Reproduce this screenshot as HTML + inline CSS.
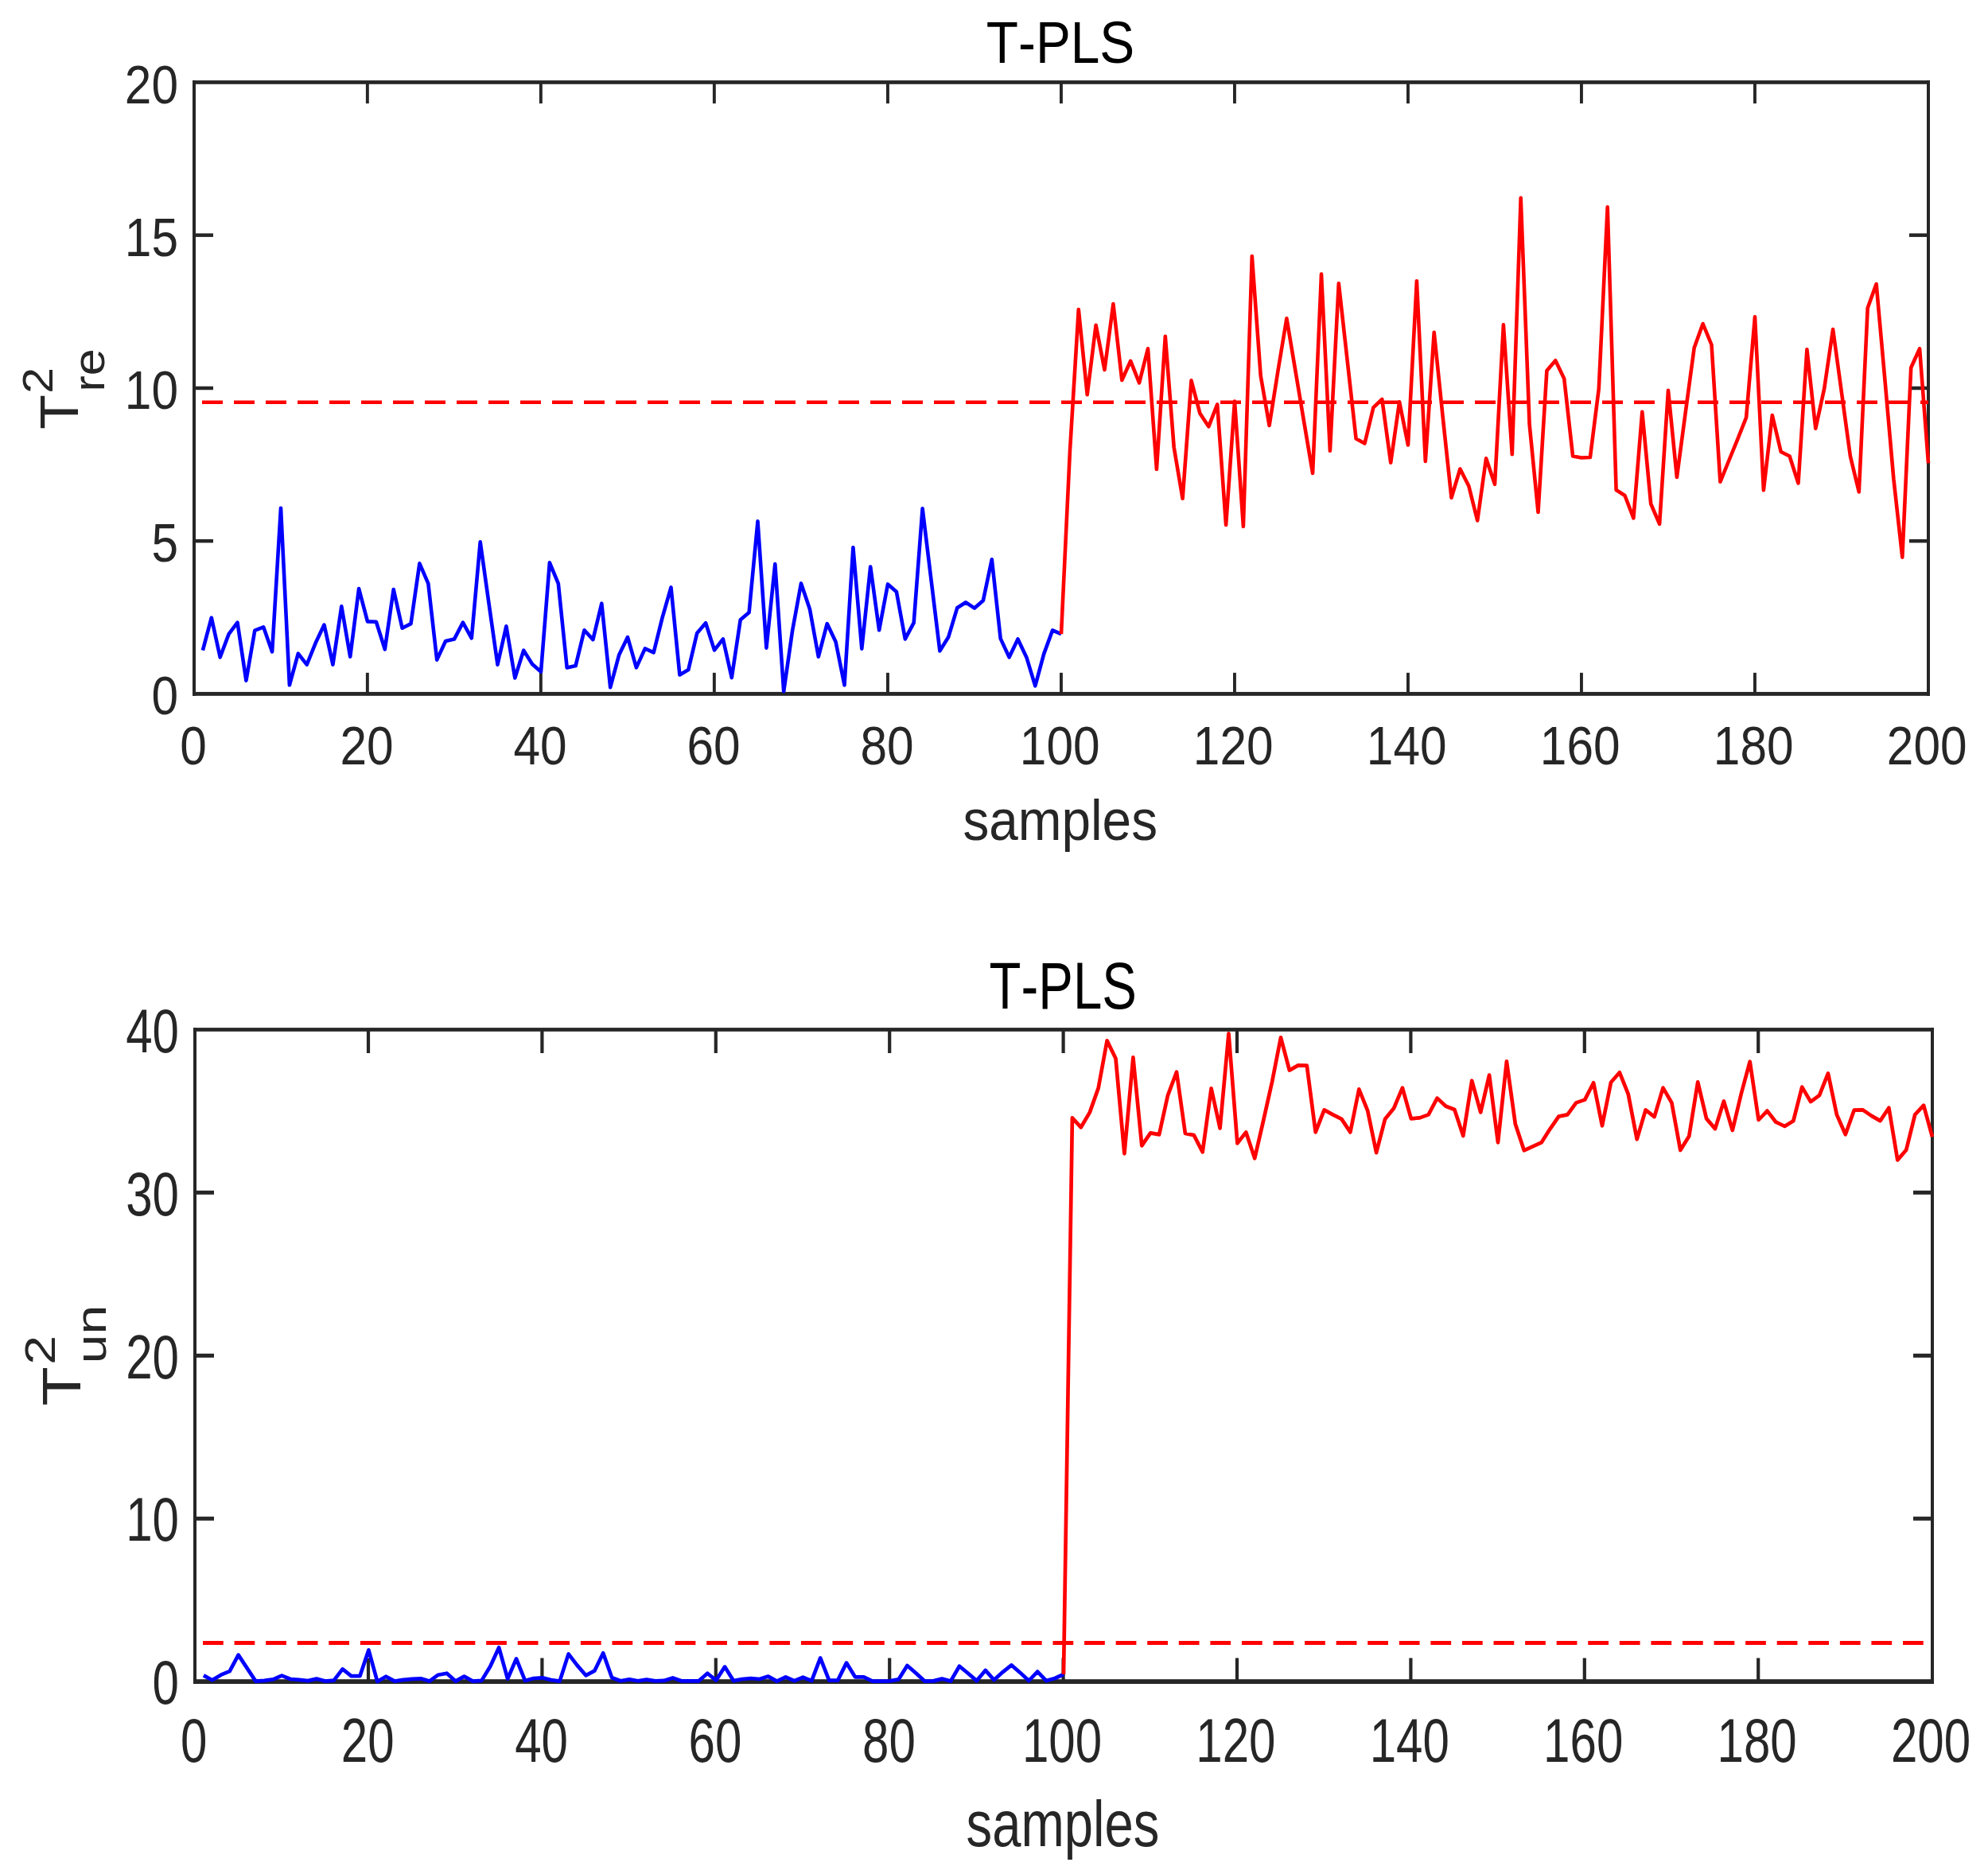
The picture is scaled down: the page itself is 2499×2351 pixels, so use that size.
<!DOCTYPE html>
<html lang="en"><head><meta charset="utf-8"><title>T-PLS</title>
<style>html,body{margin:0;padding:0;background:#fff;overflow:hidden}svg{display:block}text{font-family:"Liberation Sans",sans-serif;font-kerning:none;font-variant-ligatures:none}</style>
</head><body>
<svg width="2499" height="2351" viewBox="0 0 2499 2351">
<rect width="2499" height="2351" fill="#ffffff"/>
<g fill="#262626">
<rect x="242" y="101.1" width="4" height="773.7"/>
<rect x="2422" y="101.1" width="4" height="773.7"/>
<rect x="242" y="101.1" width="2184" height="4.7"/>
<rect x="242" y="869.9" width="2184" height="4.9"/>
<rect x="459.9" y="845.8" width="3.9" height="26.6"/>
<rect x="459.9" y="103.5" width="3.9" height="26.6"/>
<rect x="677.9" y="845.8" width="3.9" height="26.6"/>
<rect x="677.9" y="103.5" width="3.9" height="26.6"/>
<rect x="895.9" y="845.8" width="3.9" height="26.6"/>
<rect x="895.9" y="103.5" width="3.9" height="26.6"/>
<rect x="1114" y="845.8" width="3.9" height="26.6"/>
<rect x="1114" y="103.5" width="3.9" height="26.6"/>
<rect x="1332" y="845.8" width="3.9" height="26.6"/>
<rect x="1332" y="103.5" width="3.9" height="26.6"/>
<rect x="1550" y="845.8" width="3.9" height="26.6"/>
<rect x="1550" y="103.5" width="3.9" height="26.6"/>
<rect x="1768" y="845.8" width="3.9" height="26.6"/>
<rect x="1768" y="103.5" width="3.9" height="26.6"/>
<rect x="1986" y="845.8" width="3.9" height="26.6"/>
<rect x="1986" y="103.5" width="3.9" height="26.6"/>
<rect x="2204" y="845.8" width="3.9" height="26.6"/>
<rect x="2204" y="103.5" width="3.9" height="26.6"/>
<rect x="244" y="677.9" width="24" height="4.5"/>
<rect x="2400" y="677.9" width="24" height="4.5"/>
<rect x="244" y="485.7" width="24" height="4.5"/>
<rect x="2400" y="485.7" width="24" height="4.5"/>
<rect x="244" y="293.4" width="24" height="4.5"/>
<rect x="2400" y="293.4" width="24" height="4.5"/>
</g>
<line x1="254" y1="505.8" x2="2424" y2="505.8" stroke="#ff0000" stroke-width="4.6" stroke-dasharray="26 14"/>
<polyline points="254.9,817.6 265.8,776.6 276.7,826.3 287.6,797.1 298.5,782.6 309.4,855.6 320.3,792.6 331.2,788.3 342.1,819.4 353,638.7 363.9,861.3 374.8,821.6 385.7,835.6 396.6,808.6 407.5,785.6 418.4,835.6 429.3,762.3 440.2,825.6 451.1,740.1 462,781.4 472.9,781.7 483.8,816.3 494.7,741.1 505.6,789.7 516.5,784.1 527.4,708.4 538.3,733.6 549.2,829.6 560.1,806 571,803.6 581.9,782.6 592.8,802.3 603.7,681.3 614.6,759.1 625.5,835.6 636.4,787.3 647.3,852.4 658.2,817.6 669.1,835 680,844.6 690.9,707.3 701.8,733.6 712.7,839.4 723.6,837.1 734.5,792.3 745.4,804.1 756.3,758.7 767.2,864.2 778.1,823.6 789,801.1 799.9,839.4 810.8,815.4 821.7,820.3 832.6,776.4 843.5,738.4 854.4,848.4 865.3,842.1 876.2,796 887.1,783.3 898,817.4 908.9,803.4 919.8,852 930.7,779.3 941.6,770 952.5,655.4 963.4,814.6 974.3,709.1 985.2,869.3 996.1,792.9 1007,733.4 1017.9,765.7 1028.8,825.6 1039.7,784.1 1050.6,807.1 1061.5,861.3 1072.4,688.3 1083.3,815.6 1094.2,712.6 1105.1,792.3 1116,734.4 1126.9,744 1137.8,803.4 1148.7,782.9 1159.6,639.4 1170.5,729 1181.4,818.4 1192.3,800.7 1203.2,764.3 1214.1,757.3 1225,764.6 1235.9,755 1246.8,703.3 1257.7,802.9 1268.6,826.3 1279.5,803.4 1290.4,826.4 1301.3,862.4 1312.2,822.1 1323.1,792.3 1334,797.1" fill="none" stroke="#0000ff" stroke-width="4.6" stroke-linejoin="round" stroke-linecap="butt"/>
<polyline points="1334,797.1 1344.9,568 1355.8,389 1366.7,496.3 1377.6,408.8 1388.5,465 1399.4,382 1410.3,478 1421.2,453.8 1432.1,481.3 1443,438.3 1453.9,590 1464.8,422.8 1475.7,562.3 1486.6,626.8 1497.5,478.3 1508.4,519.8 1519.3,536.3 1530.2,508.3 1541.1,660 1552,504.5 1562.9,662 1573.8,322 1584.7,472.3 1595.6,535 1606.5,466 1617.4,400.3 1628.3,465.5 1639.2,530.5 1650.1,595 1661,344.5 1671.9,566.8 1682.8,356.3 1693.7,453.8 1704.6,551.5 1715.5,557.5 1726.4,512.3 1737.3,502 1748.2,581.8 1759.1,505.3 1770,559.5 1780.9,353.3 1791.8,580 1802.7,417.8 1813.6,523.5 1824.5,625.8 1835.4,589.5 1846.3,611 1857.2,654.5 1868.1,576.3 1879,608.8 1889.9,408.3 1900.8,571.3 1911.7,248.8 1922.6,533.5 1933.5,644 1944.4,466 1955.3,453.3 1966.2,476 1977.1,573.5 1988,575.5 1998.9,575 2009.8,488.5 2020.7,260.3 2031.6,616 2042.5,623 2053.4,651.3 2064.3,517.8 2075.2,633.5 2086.1,658.8 2097,490.8 2107.9,600 2118.8,518 2129.7,437.3 2140.6,407 2151.5,433.5 2162.4,605.8 2173.3,579 2184.2,552.3 2195.1,524.8 2206,398.3 2216.9,616.3 2227.8,522 2238.7,568 2249.6,573.5 2260.5,607.5 2271.4,439.3 2282.3,538.8 2293.2,488.5 2304.1,414 2315,493.8 2325.9,573.5 2336.8,618.5 2347.7,387.3 2358.6,357 2369.5,478.5 2380.4,602.3 2391.3,700.6 2402.2,462.3 2413.1,438.3 2424,582.3" fill="none" stroke="#ff0000" stroke-width="4.6" stroke-linejoin="round" stroke-linecap="butt"/>
<text transform="translate(1333 78.9) scale(0.883 1)" font-size="74.5" text-anchor="middle" fill="#000000">T-PLS</text>
<text transform="translate(243 961.3) scale(0.892 1)" font-size="67.7" text-anchor="middle" fill="#262626">0</text>
<text transform="translate(461 961.3) scale(0.892 1)" font-size="67.7" text-anchor="middle" fill="#262626">20</text>
<text transform="translate(679 961.3) scale(0.892 1)" font-size="67.7" text-anchor="middle" fill="#262626">40</text>
<text transform="translate(897 961.3) scale(0.892 1)" font-size="67.7" text-anchor="middle" fill="#262626">60</text>
<text transform="translate(1115 961.3) scale(0.892 1)" font-size="67.7" text-anchor="middle" fill="#262626">80</text>
<text transform="translate(1332.2 961.3) scale(0.892 1)" font-size="67.7" text-anchor="middle" fill="#262626">100</text>
<text transform="translate(1550.2 961.3) scale(0.892 1)" font-size="67.7" text-anchor="middle" fill="#262626">120</text>
<text transform="translate(1768.2 961.3) scale(0.892 1)" font-size="67.7" text-anchor="middle" fill="#262626">140</text>
<text transform="translate(1986.2 961.3) scale(0.892 1)" font-size="67.7" text-anchor="middle" fill="#262626">160</text>
<text transform="translate(2204.2 961.3) scale(0.892 1)" font-size="67.7" text-anchor="middle" fill="#262626">180</text>
<text transform="translate(2422.2 961.3) scale(0.892 1)" font-size="67.7" text-anchor="middle" fill="#262626">200</text>
<text transform="translate(224 898.4) scale(0.892 1)" font-size="67.7" text-anchor="end" fill="#262626">0</text>
<text transform="translate(224 706.1) scale(0.892 1)" font-size="67.7" text-anchor="end" fill="#262626">5</text>
<text transform="translate(224 513.9) scale(0.892 1)" font-size="67.7" text-anchor="end" fill="#262626">10</text>
<text transform="translate(224 321.7) scale(0.892 1)" font-size="67.7" text-anchor="end" fill="#262626">15</text>
<text transform="translate(224 129.5) scale(0.892 1)" font-size="67.7" text-anchor="end" fill="#262626">20</text>
<text transform="translate(1332.7 1056.2) scale(0.9 1)" font-size="73" text-anchor="middle" fill="#262626">samples</text>
<text transform="translate(98 539.7) scale(0.96 1) rotate(-90)" font-size="71.5" text-anchor="start" fill="#262626">T</text>
<text transform="translate(66.4 494.8) scale(0.9 1) rotate(-90)" font-size="59" text-anchor="start" fill="#262626">2</text>
<text transform="translate(131 492.5) scale(0.9 1) rotate(-90)" font-size="61" text-anchor="start" fill="#262626">re</text>
<g fill="#262626">
<rect x="243" y="1292.1" width="4" height="824.9"/>
<rect x="2427" y="1292.1" width="4" height="824.9"/>
<rect x="243" y="1292.1" width="2188" height="4.7"/>
<rect x="243" y="2111.2" width="2188" height="5.8"/>
<rect x="460.9" y="2084.5" width="4.2" height="29.6"/>
<rect x="460.9" y="1294.4" width="4.2" height="29.6"/>
<rect x="679.3" y="2084.5" width="4.2" height="29.6"/>
<rect x="679.3" y="1294.4" width="4.2" height="29.6"/>
<rect x="897.7" y="2084.5" width="4.2" height="29.6"/>
<rect x="897.7" y="1294.4" width="4.2" height="29.6"/>
<rect x="1116.1" y="2084.5" width="4.2" height="29.6"/>
<rect x="1116.1" y="1294.4" width="4.2" height="29.6"/>
<rect x="1334.5" y="2084.5" width="4.2" height="29.6"/>
<rect x="1334.5" y="1294.4" width="4.2" height="29.6"/>
<rect x="1552.9" y="2084.5" width="4.2" height="29.6"/>
<rect x="1552.9" y="1294.4" width="4.2" height="29.6"/>
<rect x="1771.3" y="2084.5" width="4.2" height="29.6"/>
<rect x="1771.3" y="1294.4" width="4.2" height="29.6"/>
<rect x="1989.7" y="2084.5" width="4.2" height="29.6"/>
<rect x="1989.7" y="1294.4" width="4.2" height="29.6"/>
<rect x="2208.1" y="2084.5" width="4.2" height="29.6"/>
<rect x="2208.1" y="1294.4" width="4.2" height="29.6"/>
<rect x="245" y="1906.7" width="24" height="5"/>
<rect x="2405" y="1906.7" width="24" height="5"/>
<rect x="245" y="1701.8" width="24" height="5"/>
<rect x="2405" y="1701.8" width="24" height="5"/>
<rect x="245" y="1496.8" width="24" height="5"/>
<rect x="2405" y="1496.8" width="24" height="5"/>
</g>
<line x1="255" y1="2065.5" x2="2429" y2="2065.5" stroke="#ff0000" stroke-width="5.0" stroke-dasharray="25.75 13.824"/>
<polyline points="255.9,2106.4 266.8,2112.3 277.8,2105.7 288.7,2101.1 299.6,2080.6 310.5,2097.1 321.4,2113.6 332.4,2112.9 343.3,2111.4 354.2,2106.6 365.1,2111 376,2111.9 387,2113.1 397.9,2110.6 408.8,2113.6 419.7,2112.6 430.6,2098.4 441.6,2107.1 452.5,2107.1 463.4,2074.4 474.3,2114 485.2,2107.7 496.2,2113.6 507.1,2111.9 518,2110.8 528.9,2110.3 539.8,2113.6 550.8,2105.7 561.7,2103.7 572.6,2113.6 583.5,2107.6 594.4,2113.6 605.4,2112.9 616.3,2095 627.2,2071.3 638.1,2110.7 649,2085.4 660,2112.9 670.9,2110 681.8,2109.3 692.7,2112.1 703.6,2113.6 714.6,2079.4 725.5,2093.6 736.4,2106.3 747.3,2100.7 758.2,2078.3 769.2,2109.3 780.1,2113.3 791,2111.4 801.9,2113.3 812.8,2111.6 823.8,2113.4 834.7,2112.9 845.6,2109.4 856.5,2113.3 867.4,2113.4 878.4,2113.3 889.3,2103.7 900.2,2112.6 911.1,2095.6 922,2113.1 933,2111 943.9,2110 954.8,2111 965.7,2107.6 976.6,2113.6 987.6,2108.4 998.5,2113.1 1009.4,2108.7 1020.3,2113.1 1031.2,2084.4 1042.2,2112.6 1053.1,2112.6 1064,2090.6 1074.9,2108.3 1085.8,2108.3 1096.8,2113.6 1107.7,2113.7 1118.6,2113.4 1129.5,2111.4 1140.4,2094 1151.4,2103.6 1162.3,2113.6 1173.2,2113.4 1184.1,2110.6 1195,2113.6 1206,2094.7 1216.9,2103.7 1227.8,2113.1 1238.7,2099.9 1249.6,2112.1 1260.6,2102.1 1271.5,2093.4 1282.4,2102.9 1293.3,2113 1304.2,2101.6 1315.2,2113.1 1326.1,2110 1337,2105" fill="none" stroke="#0000ff" stroke-width="4.7" stroke-linejoin="round" stroke-linecap="butt"/>
<polyline points="1337,2105 1347.9,1405.4 1358.8,1417.3 1369.8,1398.6 1380.7,1367.9 1391.6,1308.4 1402.5,1330.7 1413.4,1450.3 1424.4,1329.4 1435.3,1440.3 1446.2,1424.4 1457.1,1426.4 1468,1377.1 1479,1347.7 1489.9,1425 1500.8,1427.1 1511.7,1448.4 1522.6,1368.4 1533.6,1418.4 1544.5,1299.4 1555.4,1437.4 1566.3,1423.4 1577.2,1456.3 1588.2,1408.6 1599.1,1360 1610,1304.4 1620.9,1345.6 1631.8,1339.4 1642.8,1339.7 1653.7,1423.4 1664.6,1395.4 1675.5,1401.4 1686.4,1406.9 1697.4,1423.4 1708.3,1369.4 1719.2,1396.4 1730.1,1449.1 1741,1407.1 1752,1393.6 1762.9,1367.6 1773.8,1406.3 1784.7,1405.4 1795.6,1401.4 1806.6,1380.6 1817.5,1390.7 1828.4,1395 1839.3,1428 1850.2,1358.7 1861.2,1398.4 1872.1,1351.6 1883,1436.3 1893.9,1334.4 1904.8,1412.9 1915.8,1446.3 1926.7,1441.4 1937.6,1436.4 1948.5,1419.3 1959.4,1403.6 1970.4,1401.4 1981.3,1386.4 1992.2,1382.6 2003.1,1361.3 2014,1415.3 2025,1360.7 2035.9,1348.3 2046.8,1375.7 2057.7,1432.3 2068.6,1395.4 2079.6,1404.1 2090.5,1367.6 2101.4,1386.4 2112.3,1446 2123.2,1428.6 2134.2,1360.4 2145.1,1406.4 2156,1419.1 2166.9,1384.4 2177.8,1421 2188.8,1375 2199.7,1334.7 2210.6,1408 2221.5,1396.6 2232.4,1410.7 2243.4,1416 2254.3,1409.3 2265.2,1366.6 2276.1,1385.1 2287,1377.1 2298,1349.4 2308.9,1401.4 2319.8,1426.3 2330.7,1395.7 2341.6,1395.4 2352.6,1402.9 2363.5,1409.1 2374.4,1392.8 2385.3,1458.4 2396.2,1445.7 2407.2,1401.4 2418.1,1389.7 2429,1429.3" fill="none" stroke="#ff0000" stroke-width="4.7" stroke-linejoin="round" stroke-linecap="butt"/>
<text transform="translate(1336.2 1267.6) scale(0.788 1)" font-size="83" text-anchor="middle" fill="#000000">T-PLS</text>
<text transform="translate(243.8 2214.7) scale(0.769 1)" font-size="78.1" text-anchor="middle" fill="#262626">0</text>
<text transform="translate(462.2 2214.7) scale(0.769 1)" font-size="78.1" text-anchor="middle" fill="#262626">20</text>
<text transform="translate(680.6 2214.7) scale(0.769 1)" font-size="78.1" text-anchor="middle" fill="#262626">40</text>
<text transform="translate(899 2214.7) scale(0.769 1)" font-size="78.1" text-anchor="middle" fill="#262626">60</text>
<text transform="translate(1117.4 2214.7) scale(0.769 1)" font-size="78.1" text-anchor="middle" fill="#262626">80</text>
<text transform="translate(1335 2214.7) scale(0.769 1)" font-size="78.1" text-anchor="middle" fill="#262626">100</text>
<text transform="translate(1553.4 2214.7) scale(0.769 1)" font-size="78.1" text-anchor="middle" fill="#262626">120</text>
<text transform="translate(1771.8 2214.7) scale(0.769 1)" font-size="78.1" text-anchor="middle" fill="#262626">140</text>
<text transform="translate(1990.2 2214.7) scale(0.769 1)" font-size="78.1" text-anchor="middle" fill="#262626">160</text>
<text transform="translate(2208.6 2214.7) scale(0.769 1)" font-size="78.1" text-anchor="middle" fill="#262626">180</text>
<text transform="translate(2427 2214.7) scale(0.769 1)" font-size="78.1" text-anchor="middle" fill="#262626">200</text>
<text transform="translate(225 2142.3) scale(0.769 1)" font-size="78.1" text-anchor="end" fill="#262626">0</text>
<text transform="translate(225 1937.4) scale(0.769 1)" font-size="78.1" text-anchor="end" fill="#262626">10</text>
<text transform="translate(225 1732.5) scale(0.769 1)" font-size="78.1" text-anchor="end" fill="#262626">20</text>
<text transform="translate(225 1527.5) scale(0.769 1)" font-size="78.1" text-anchor="end" fill="#262626">30</text>
<text transform="translate(225 1322.6) scale(0.769 1)" font-size="78.1" text-anchor="end" fill="#262626">40</text>
<text transform="translate(1336 2321.3) scale(0.8 1)" font-size="81.5" text-anchor="middle" fill="#262626">samples</text>
<text transform="translate(100.8 1767.5) scale(0.845 1) rotate(-90)" font-size="81" text-anchor="start" fill="#262626">T</text>
<text transform="translate(68.9 1715.8) scale(0.8 1) rotate(-90)" font-size="66" text-anchor="start" fill="#262626">2</text>
<text transform="translate(133.1 1714.3) scale(0.8 1) rotate(-90)" font-size="66" text-anchor="start" fill="#262626">un</text>
</svg>
</body></html>
